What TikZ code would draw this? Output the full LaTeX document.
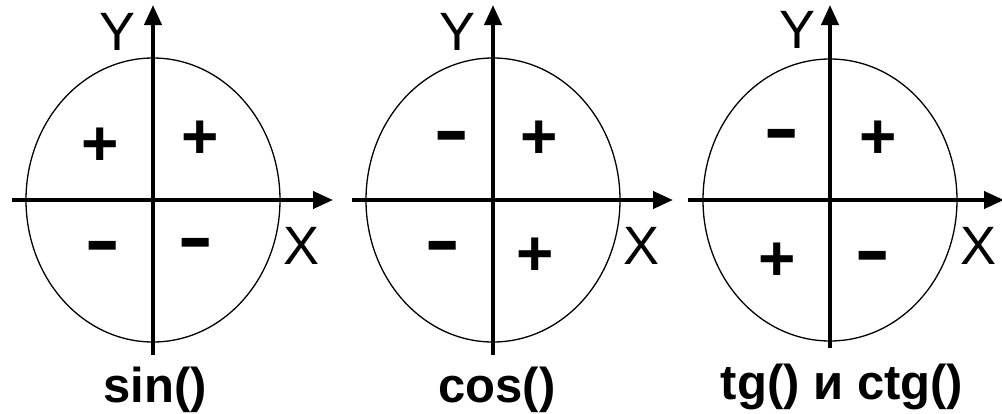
\documentclass[tikz,border=0pt]{standalone}
\usepackage{fontspec}
\setmainfont{Liberation Sans}
\usetikzlibrary{arrows.meta}
\newcommand{\fatminus}{\scalebox{1.05}[1.7]{–}}

\begin{document}
\begin{tikzpicture}[x=1pt, y=-1pt,
  axis/.style={line width=4pt, -{Triangle[length=20pt,width=17pt]}},
  ring/.style={line width=1.3pt},
  axlabel/.style={font=\fontsize{54}{54}\selectfont, inner sep=0pt},
  plus/.style={font=\fontsize{64}{64}\selectfont\bfseries, inner sep=0pt},
  minus/.style={font=\fontsize{52}{52}\selectfont\bfseries, inner sep=0pt, yshift=-10pt},
  funclabel/.style={font=\fontsize{49}{49}\selectfont\bfseries, inner sep=0pt}]
\useasboundingbox (0,0) rectangle (1002,413);

% sin() panel
\draw[ring] (153,200) ellipse [x radius=127, y radius=142];
\draw[axis] (12,200) -- (333,200);
\draw[axis] (153,355) -- (153,5);
\node[axlabel] (ysin) at (118,32) {Y};
\node[axlabel] (xsin) at (302,246) {X};
\node[plus] (sin1) at (100,147) {+};
\node[plus] (sin2) at (200,140) {+};
\node[minus] (sin3) at (103,245) {\fatminus};
\node[minus] (sin4) at (196,242) {\fatminus};
\node[funclabel] (sinlbl) at (155,390) {sin()};

% cos() panel
\draw[ring] (493,200) ellipse [x radius=127, y radius=142];
\draw[axis] (352,200) -- (673,200);
\draw[axis] (493,355) -- (493,5);
\node[axlabel] (ycos) at (458,32) {Y};
\node[axlabel] (xcos) at (642,246) {X};
\node[minus] (cos1) at (452,135) {\fatminus};
\node[plus] (cos2) at (539,140) {+};
\node[minus] (cos3) at (443,245) {\fatminus};
\node[plus] (cos4) at (535,257) {+};
\node[funclabel] (coslbl) at (497,390) {cos()};

% tg() and ctg() panel
\draw[ring] (830,200) ellipse [x radius=127, y radius=141];
\draw[axis] (688,200) -- (1004,200);
\draw[axis] (830,348) -- (830,5);
\node[axlabel] (ytg) at (798,30) {Y};
\node[axlabel] (xtg) at (978,246) {X};
\node[minus] (tg1) at (782,133) {\fatminus};
\node[plus] (tg2) at (878,140) {+};
\node[plus] (tg3) at (777,262) {+};
\node[minus] (tg4) at (873,255) {\fatminus};
\node[funclabel] (tglbl) at (842,387) {tg() и ctg()};
\end{tikzpicture}
\end{document}
